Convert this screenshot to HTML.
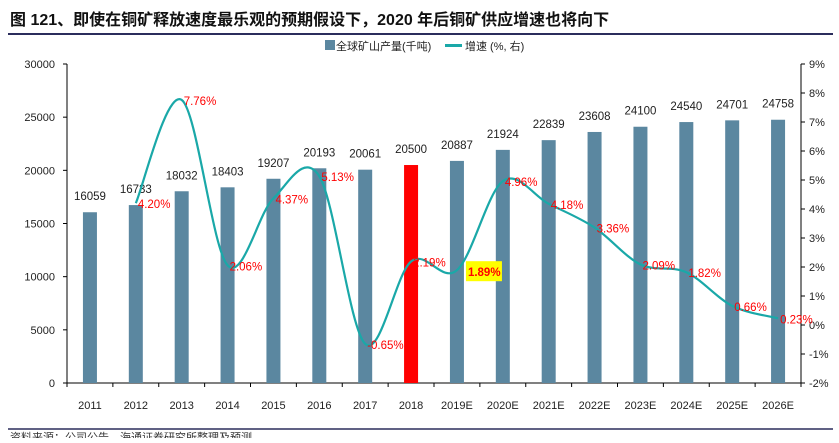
<!DOCTYPE html>
<html><head><meta charset="utf-8">
<style>
body{margin:0;background:#fff;width:839px;height:438px;overflow:hidden;font-family:"Liberation Sans","Noto Sans CJK SC",sans-serif;}
svg text{font-family:"Liberation Sans","Noto Sans CJK SC",sans-serif;}
</style></head><body>
<svg id="c" width="839" height="438" xmlns="http://www.w3.org/2000/svg">
<text x="10" y="25" font-size="16" font-weight="bold" fill="#111">图 121、即使在铜矿释放速度最乐观的预期假设下，2020 年后铜矿供应增速也将向下</text>
<line x1="8" y1="34" x2="833" y2="34" stroke="#2b2d5c" stroke-width="2"/>
<g>
<rect x="325" y="40" width="10" height="10" fill="#5b87a0"/>
<text x="336" y="50" font-size="11" fill="#222">全球矿山产量(千吨)</text>
<rect x="445" y="44" width="17" height="3" fill="#1aa8a8"/>
<text x="465" y="50" font-size="11" fill="#222">增速 (%, 右)</text>
</g>
<g id="plot"></g>
<line x1="8" y1="429" x2="833" y2="429" stroke="#2b2d5c" stroke-width="1.5"/>
<text x="10" y="441" font-size="11" fill="#333">资料来源：公司公告，海通证券研究所整理及预测</text>
</svg>
<script>
const categories=["2011","2012","2013","2014","2015","2016","2017","2018","2019E","2020E","2021E","2022E","2023E","2024E","2025E","2026E"];
const production=[16059,16733,18032,18403,19207,20193,20061,20500,20887,21924,22839,23608,24100,24540,24701,24758];
const growth=[null,4.20,7.76,2.06,4.37,5.13,-0.65,2.19,1.89,4.96,4.18,3.36,2.09,1.82,0.66,0.23];
const leftTicks=[0,5000,10000,15000,20000,25000,30000];
const rightTicks=[-2,-1,0,1,2,3,4,5,6,7,8,9];
const L=67,R=801,T=64,B=383,NS="http://www.w3.org/2000/svg";
const g=document.getElementById('plot');
const n=categories.length,cw=(R-L)/n;
const xc=i=>L+cw*(i+0.5);
const yl=v=>B-(v/30000)*(B-T);
const yr=v=>B-((v+2)/11)*(B-T);
function mk(t,a,txt){const e=document.createElementNS(NS,t);for(const k in a)e.setAttribute(k,a[k]);if(txt!==undefined)e.textContent=txt;g.appendChild(e);return e;}
// axes
let e=mk('line',{x1:L,y1:T,x2:L,y2:B,stroke:'#000','stroke-width':1});


e=mk('line',{x1:R,y1:T,x2:R,y2:B,stroke:'#000','stroke-width':1});


e=mk('line',{x1:L,y1:B,x2:R,y2:B,stroke:'#000','stroke-width':1});


leftTicks.forEach(v=>{
  mk('line',{x1:L-4,y1:yl(v),x2:L,y2:yl(v),stroke:'#000'});
  e=mk('text',{x:L-12,y:yl(v)+4,'font-size':11,'text-anchor':'end',fill:'#222'},String(v));
  
  
});
rightTicks.forEach(v=>{
  mk('line',{x1:R,y1:yr(v),x2:R+4,y2:yr(v),stroke:'#000'});
  e=mk('text',{x:R+8,y:yr(v)+4,'font-size':11,fill:'#222'},v+'%');
  
  
});
for(let i=0;i<=n;i++)mk('line',{x1:L+cw*i,y1:B,x2:L+cw*i,y2:B+4,stroke:'#000'});
categories.forEach((c,i)=>{
  const x=xc(i),bw=14;
  e=mk('rect',{x:x-bw/2,y:yl(production[i]),width:bw,height:B-yl(production[i]),fill:c==='2018'?'#ff0000':'#5b87a0'});
  
  
  e=mk('text',{x:x,y:yl(production[i])-12,'font-size':11.5,'text-anchor':'middle',fill:'#222'},String(production[i]));
  
  
  e=mk('text',{x:x,y:B+26,'font-size':11,'text-anchor':'middle',fill:'#222'},c);
  
  
});
// smooth line
const pts=[];growth.forEach((v,i)=>{if(v!==null)pts.push([xc(i),yr(v)]);});
let d='M'+pts[0][0]+','+pts[0][1];
for(let i=0;i<pts.length-1;i++){
  const p0=pts[i-1]||pts[i],p1=pts[i],p2=pts[i+1],p3=pts[i+2]||p2,t=1/6;
  d+=' C'+(p1[0]+(p2[0]-p0[0])*t)+','+(p1[1]+(p2[1]-p0[1])*t)+' '+(p2[0]-(p3[0]-p1[0])*t)+','+(p2[1]-(p3[1]-p1[1])*t)+' '+p2[0]+','+p2[1];
}
e=mk('path',{d:d,fill:'none',stroke:'#1aa8a8','stroke-width':2.2});


growth.forEach((v,i)=>{
  if(v===null)return;
  const x=xc(i)+2,y=yr(v)+5,txt=v.toFixed(2)+'%';
  if(categories[i]==='2019E'){
    e=mk('rect',{x:x+7,y:y-14,width:36,height:20,fill:'#ffff00'});
    
    
    e=mk('text',{x:x+9,y:y+1,'font-size':11.5,'font-weight':'bold',fill:'#ff0000'},txt);
  } else {
    e=mk('text',{x:x,y:y,'font-size':11.5,fill:'#ff0000'},txt);
  }
  
  
});
</script>
</body></html>
